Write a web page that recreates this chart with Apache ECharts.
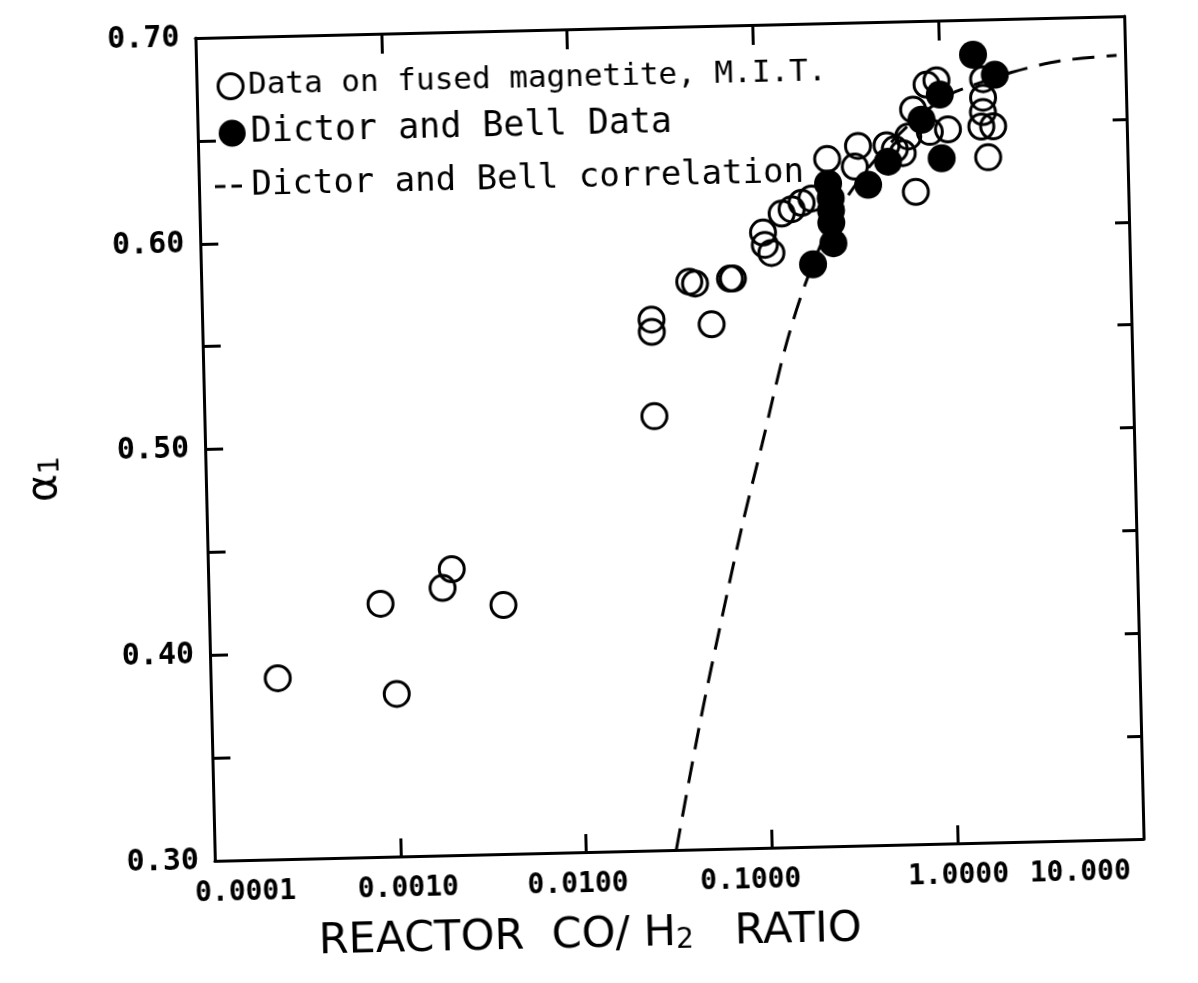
<!DOCTYPE html>
<html>
<head>
<meta charset="utf-8">
<title>Alpha vs reactor CO/H2 ratio</title>
<script src="https://cdn.jsdelivr.net/npm/echarts@6/dist/echarts.min.js"></script>
<style>
  html, body { margin: 0; padding: 0; background: #fff; }
  /* the printed figure sits slightly tilted on the page */
  #chart { width: 1198px; height: 983px; transform-origin: 669.5px 438px; transform: rotate(-1.35deg); }
</style>
</head>
<body>
<div id="chart"></div>
<script>
// ---- axis ticks -------------------------------------------------------
const xTickValues = [0.0001, 0.001, 0.01, 0.1, 1, 10];
const xTickLabels = ['0.0001', '0.0010', '0.0100', '0.1000', '1.0000', '10.000'];
const yTickValues = [0.30, 0.40, 0.50, 0.60, 0.70];
const yTickLabels = ['0.30', '0.40', '0.50', '0.60', '0.70'];

// ---- Data on fused magnetite, M.I.T. (open circles) -------------------
const mitRatio = [0.00023, 0.00084, 0.0010, 0.00182, 0.00205, 0.00385,
  0.0262, 0.0262, 0.0551, 0.0264, 0.0423, 0.0454, 0.0701, 0.0727,
  0.107, 0.109, 0.118, 0.1355, 0.1535, 0.174, 0.197,
  0.242, 0.356, 0.340, 0.507, 0.561, 0.665, 0.712, 0.847, 0.959,
  0.870, 1.09, 1.71, 1.70, 1.69, 1.65, 1.91, 1.78, 0.719, 0.618];
const mitAlpha = [0.388, 0.423, 0.379, 0.430, 0.439, 0.421,
  0.558, 0.552, 0.555, 0.511, 0.576, 0.575, 0.577, 0.577,
  0.599, 0.593, 0.589, 0.608, 0.610, 0.613, 0.615,
  0.634, 0.640, 0.630, 0.640, 0.638, 0.644, 0.657, 0.669, 0.671,
  0.646, 0.647, 0.671, 0.662, 0.655, 0.648, 0.648, 0.633, 0.617, 0.636];

// ---- Dictor and Bell data (filled circles) -----------------------------
const dbRatio = [0.243, 0.250, 0.250, 0.250, 0.255, 0.197, 0.399, 0.514, 0.788, 0.995, 1.00, 1.52, 1.98];
const dbAlpha = [0.622, 0.615, 0.609, 0.603, 0.593, 0.583, 0.621, 0.632, 0.652, 0.664, 0.633, 0.683, 0.673];

// ---- Dictor and Bell correlation (dashed curve) ------------------------
const corrRatio = [0.0305, 0.0427, 0.0577, 0.0759, 0.0993, 0.1355, 0.177, 0.25, 0.40, 0.70, 1.13, 1.43, 2.44, 4.45, 9.0];
const corrAlpha = [0.300, 0.3625, 0.413, 0.457, 0.496, 0.542, 0.573, 0.603, 0.629, 0.651, 0.664, 0.6675, 0.674, 0.679, 0.681];

const pairs = (xs, ys) => xs.map((x, i) => [x, ys[i]]);

const MONO = 'DejaVu Sans Mono';
const SANS = 'DejaVu Sans';
const INK = '#000';

// the hand-lettered decade labels sit a little off their ticks
const xLabelShift = [30, 7, -9, -22, 0, -64];
const xLabelRich = {};
xLabelShift.forEach((s, i) => {
  xLabelRich['p' + i] = {
    fontFamily: MONO, fontSize: 28, fontWeight: 'bold', color: INK,
    padding: s >= 0 ? [0, 0, 0, 2 * s] : [0, -2 * s, 0, 0]
  };
});

function xLabel(v) {
  const i = xTickValues.findIndex(t => Math.abs(Math.log10(t) - Math.log10(v)) < 1e-6);
  return i >= 0 ? '{p' + i + '|' + xTickLabels[i] + '}' : '';
}
function yLabel(v) {
  const i = yTickValues.findIndex(t => Math.abs(t - v) < 1e-6);
  return i >= 0 ? yTickLabels[i] : '';
}

const frameLine = { show: true, lineStyle: { color: INK, width: 3 } };
const innerTick = len => ({ show: true, inside: true, length: len, lineStyle: { color: INK, width: 3 } });

const chart = echarts.init(document.getElementById('chart'));

chart.setOption({
  animation: false,
  backgroundColor: '#fff',
  grid: { left: 205, top: 27, width: 929, height: 823 },
  legend: [
    {
      left: 225, top: 59, padding: 0, selectedMode: false,
      itemWidth: 25, itemHeight: 25, itemGap: 0, itemTextGap: 7,
      textStyle: { fontFamily: MONO, fontSize: 31, lineHeight: 34, color: INK },
      data: [{ name: 'Data on fused magnetite, M.I.T.', icon: 'circle',
        itemStyle: { color: 'rgba(0,0,0,0)', borderColor: INK, borderWidth: 3 } }]
    },
    {
      left: 226, top: 105, padding: 0, selectedMode: false,
      itemWidth: 27, itemHeight: 27, itemGap: 0, itemTextGap: 5,
      textStyle: { fontFamily: MONO, fontSize: 35, lineHeight: 36, color: INK },
      data: [{ name: 'Dictor and Bell Data', icon: 'circle', itemStyle: { color: INK, borderWidth: 0 } }]
    },
    {
      left: 221, top: 158, padding: 0, selectedMode: false,
      itemWidth: 36, itemHeight: 3, itemGap: 0, itemTextGap: 12,
      textStyle: { fontFamily: MONO, fontSize: 34, lineHeight: 36, color: INK },
      data: [{ name: 'Dictor and Bell correlation', icon: 'path://M0,0h14v4h-14z M22,0h14v4h-14z',
        itemStyle: { color: INK, borderWidth: 0 } }]
    }
  ],
  xAxis: [
    {
      type: 'log', logBase: 10, min: 0.0001, max: 10, position: 'bottom',
      axisLine: frameLine, axisTick: innerTick(18), splitLine: { show: false },
      axisLabel: { formatter: xLabel, rich: xLabelRich, fontFamily: MONO, fontSize: 28, fontWeight: 'bold', color: INK, margin: 19 },
      name: '{t|REACTOR  CO/ H}{s|2}{t|   RATIO}',
      nameLocation: 'middle', nameGap: 59,
      nameTextStyle: {
        padding: [0, 182, 0, 0],
        rich: {
          t: { fontFamily: SANS, fontSize: 43, lineHeight: 46, color: INK, verticalAlign: 'bottom' },
          s: { fontFamily: SANS, fontSize: 28, lineHeight: 18, color: INK, verticalAlign: 'bottom' }
        }
      }
    },
    {
      type: 'log', logBase: 10, min: 0.0001, max: 10, position: 'top',
      axisLine: frameLine, axisTick: innerTick(20), splitLine: { show: false },
      axisLabel: { show: false }
    }
  ],
  yAxis: [
    {
      type: 'value', min: 0.30, max: 0.70, interval: 0.05, position: 'left',
      axisLine: frameLine, axisTick: innerTick(18), splitLine: { show: false },
      axisLabel: { formatter: yLabel, fontFamily: MONO, fontSize: 30, fontWeight: 'bold', color: INK, margin: 16 },
      name: '{a|α}{s|1}', nameLocation: 'middle', nameRotate: 90, nameGap: 140,
      nameTextStyle: {
        padding: [0, 52, 0, 0],
        rich: {
          a: { fontFamily: SANS, fontSize: 42, lineHeight: 46, color: INK, verticalAlign: 'bottom' },
          s: { fontFamily: SANS, fontSize: 28, lineHeight: 20, color: INK, verticalAlign: 'bottom' }
        }
      }
    },
    {
      type: 'value', min: 0.30, max: 0.70, interval: 0.05, position: 'right',
      axisLine: frameLine, axisTick: innerTick(14), splitLine: { show: false },
      axisLabel: { show: false }
    }
  ],
  series: [
    {
      name: 'Dictor and Bell correlation', type: 'line', z: 1,
      data: pairs(corrRatio, corrAlpha), smooth: 0.3,
      symbol: 'none', showSymbol: false, color: INK,
      lineStyle: { color: INK, width: 3, type: [22, 12] }
    },
    {
      name: 'Data on fused magnetite, M.I.T.', type: 'scatter', z: 2,
      data: pairs(mitRatio, mitAlpha), symbol: 'circle', symbolSize: 25,
      itemStyle: { color: 'rgba(0,0,0,0)', borderColor: INK, borderWidth: 3, opacity: 1 }
    },
    {
      name: 'Dictor and Bell Data', type: 'scatter', z: 3,
      data: pairs(dbRatio, dbAlpha), symbol: 'circle', symbolSize: 28,
      itemStyle: { color: INK, opacity: 1 }
    }
  ]
});
</script>
</body>
</html>
